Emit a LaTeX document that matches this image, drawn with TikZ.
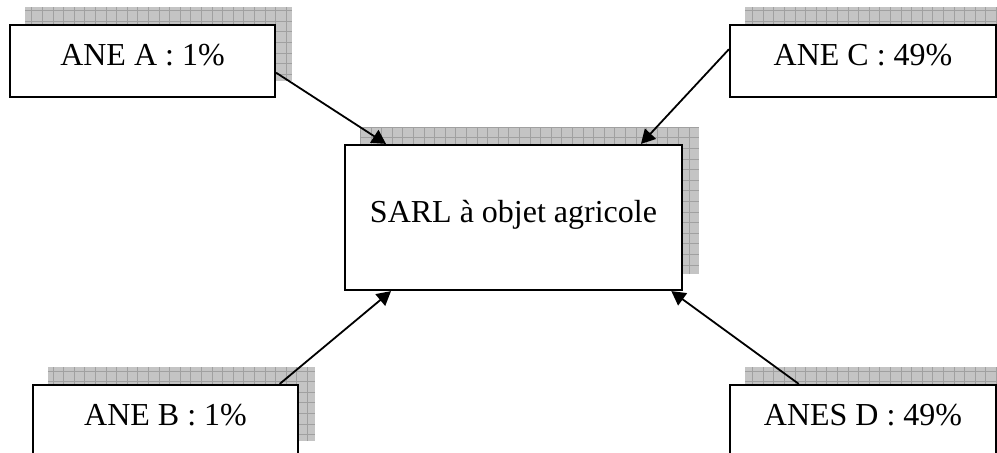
\documentclass[tikz,border=0pt]{standalone}
\usepackage{fontspec}
\setmainfont{Liberation Serif}
\usetikzlibrary{arrows.meta,backgrounds}

\definecolor{shadowgray}{HTML}{C4C4C4}
\definecolor{gridgray}{HTML}{A0A0A0}

\begin{document}
\begin{tikzpicture}[x=0.5pt, y=-0.5pt,
	box/.style={draw, line width=1.1pt, fill=white, inner sep=0pt,
		minimum width=132.5pt, minimum height=36pt,
		text height=11pt, text depth=7pt, font=\fontsize{16}{19}\selectfont},
	bigbox/.style={box, minimum width=168.5pt, minimum height=72.5pt,
		text height=11pt, text depth=6.5pt},
	shadowfill/.style={fill=shadowgray},
	shadowgrid/.style={draw=gridgray, line width=0.4pt},
	link/.style={line width=0.9pt, -{Triangle[length=7pt, width=7.5pt]}}]
	\useasboundingbox (0,0) rectangle (997,452);

	% holders and company
	\node[box] (a) at (142.5,61) {ANE A : 1\%};
	\node[box, minimum width=133pt] (c) at (863,61) {ANE C : 49\%};
	\node[bigbox] (sarl) at (513.5,217.5) {SARL à objet agricole};
	\node[box] (b) at (165.5,421) {ANE B : 1\%};
	\node[box, minimum width=133pt] (d) at (863,421) {ANES D : 49\%};

	% shadows behind the boxes
	\begin{scope}[on background layer]
		\foreach \n in {a,b,c,d,sarl} {
			\fill[shadowfill] ([shift={(16,-17)}]\n.south west) rectangle ([shift={(16,-17)}]\n.north east);
			\draw[shadowgrid] ([shift={(16,-17)}]\n.south west) grid[step=5.3pt] ([shift={(16,-17)}]\n.north east);
		}
	\end{scope}

	% shares
	\draw[link] (a.-5.2) -- (sarl.150.6);
	\draw[link] (c.175.3) -- (sarl.30.8);
	\draw[link] (b.18) -- (sarl.-149);
	\draw[link] (d.150) -- (sarl.-25.9);
\end{tikzpicture}
\end{document}
